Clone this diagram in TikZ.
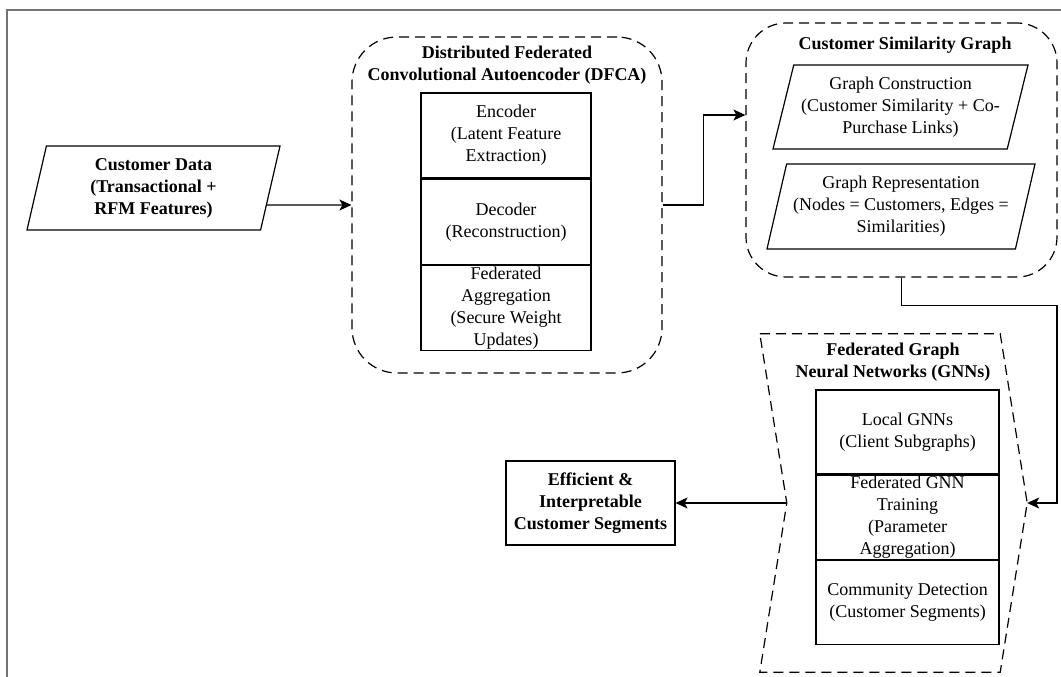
\documentclass[tikz,border=0pt]{standalone}
\usepackage{fontspec}
\setmainfont{Liberation Serif}
\usetikzlibrary{positioning,shapes.geometric,arrows.meta,calc}

\tikzset{
  every node/.style={font=\fontsize{18}{22}\selectfont, align=center},
  heading/.style={font=\fontsize{18}{22}\selectfont\bfseries},
  datanode/.style={trapezium, trapezium left angle=72, trapezium right angle=108,
    trapezium stretches body, draw, line width=1.2pt, inner sep=0pt, minimum height=84pt},
  block/.style={rectangle, draw, line width=1.2pt, inner sep=0pt, minimum height=85pt},
  groupbox/.style={draw, line width=1.2pt, dash pattern=on 10pt off 6pt},
  arr/.style={-{Stealth[length=12pt,width=11pt,inset=3pt]}, line width=1.2pt}
}

\begin{document}
\begin{tikzpicture}[x=1pt, y=-1pt]
        \useasboundingbox (0,0) rectangle (1061,677);
        % frame
        \draw[black!55, line width=2pt] (7,677) -- (7,10) -- (1061,10);

        % input
        \node[datanode, heading, minimum width=253pt] (cust) at (153.5,188) {Customer Data\\(Transactional +\\RFM Features)};

        % autoencoder group
        \node[groupbox, rounded corners=45pt, minimum width=310pt, minimum height=336pt] (dfca) at (507,205) {};
        \node[heading] (dfcatitle) at (507,65) {Distributed Federated\\Convolutional Autoencoder (DFCA)};
        \node[block, minimum width=170pt] (enc) at (506,135.5) {Encoder\\(Latent Feature\\Extraction)};
        \node[block, minimum width=170pt, below=0pt of enc] (dec) {Decoder\\(Reconstruction)};
        \node[block, minimum width=170pt, below=0pt of dec] (agg) {Federated\\Aggregation\\(Secure Weight\\Updates)};

        % similarity graph group
        \node[groupbox, rounded corners=40pt, minimum width=311pt, minimum height=254pt] (csg) at (901.5,150) {};
        \node[heading] (csgtitle) at (905,45) {Customer Similarity Graph};
        \node[datanode, trapezium left angle=71, trapezium right angle=109, minimum width=255pt] (gcon) at (900.5,107) {Graph Construction\\(Customer Similarity + Co-\\Purchase Links)};
        \node[datanode, minimum width=268pt, minimum height=85pt] (grep) at (901,206.5) {Graph Representation\\(Nodes = Customers, Edges =\\Similarities)};

        % GNN group
        \node[minimum width=240pt, minimum height=338pt, inner sep=0pt] (gnn) at (880,503) {};
        \coordinate (gnnl) at ([xshift=27pt]gnn.west);
        \coordinate (gnnr) at ([xshift=27pt]gnn.east);
        \draw[groupbox] (gnn.north west) -- (gnn.north east) -- (gnnr) -- (gnn.south east)
          -- (gnn.south west) -- (gnnl) -- cycle;
        \node[heading] (gnntitle) at (893,362) {Federated Graph\\Neural Networks (GNNs)};
        \node[block, minimum width=183pt, minimum height=84pt] (local) at (907.5,432) {Local GNNs\\(Client Subgraphs)};
        \node[block, minimum width=183pt, minimum height=84pt, below=0pt of local] (train) {Federated GNN\\Training\\(Parameter\\Aggregation)};
        \node[block, minimum width=183pt, minimum height=84pt, below=0pt of train] (comm) {Community Detection\\(Customer Segments)};

        % output
        \node[block, heading, minimum width=169pt, minimum height=84pt] (eff) at (590.5,503) {Efficient \&\\Interpretable\\Customer Segments};

        % connectors
        \draw[arr] ($(cust.top right corner)!0.7!(cust.bottom right corner)$) -- (dfca.west);
        \draw[arr] (dfca.east) -- ++(41,0) |- ([yshift=35pt]csg.west);
        \draw[arr] (csg.south) -- ++(0,28) -- ++(155.5,0) |- (gnnr);
        \draw[arr] (gnnl) -- (eff.east);
      \end{tikzpicture}
\end{document}
